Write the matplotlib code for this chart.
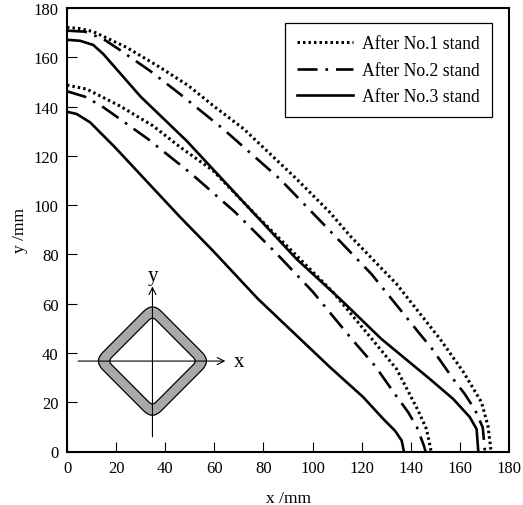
#!/usr/bin/env python3
import numpy as np
from matplotlib import pyplot as plt
from matplotlib.patches import FancyBboxPatch
from matplotlib.transforms import Affine2D

plt.rcParams['font.family'] = ['Liberation Serif', 'DejaVu Serif']

# dotted, after No.1 stand
x1a = [0, 5, 10.7, 24.3, 37.9, 49.4, 60, 72, 93.5, 107, 115.2, 134.2, 151.9, 161.4, 168.8, 171.4, 172.5, 172.6]
y1a = [172.1, 171.7, 170.4, 164, 155.9, 148.5, 140, 130.9, 110.6, 97.1, 87.6, 68, 45.7, 32.3, 20, 10.5, 1.8, 0]
x1b = [0, 8, 21.6, 35, 46, 59.5, 77.2, 93, 108.3, 124.7, 134.2, 143, 146.4, 148.1, 148.2]
y1b = [148.7, 147.1, 140.2, 132.2, 123.6, 114, 95.7, 80, 64.7, 45, 33.5, 16.6, 9.1, 1, 0]
# dash-dot, after No.2 stand
x2a = [0, 7.3, 14.8, 20.9, 33.8, 46, 63.6, 86.7, 108.3, 124, 143.7, 148.5, 157.3, 162, 166.1, 169.3, 170.2]
y2a = [170.8, 170.4, 167.4, 163.4, 154.5, 145.1, 130.9, 110.6, 88.3, 72, 47.7, 41.9, 29.4, 23.3, 17, 9.8, 0]
x2b = [0, 7.3, 14.1, 20.2, 33, 50.8, 68.4, 84.7, 100.2, 115.9, 125.4, 134.2, 138.9, 142.5, 145.4, 146]
y2b = [146.2, 144, 140.2, 135.9, 126.8, 112.6, 97.2, 81, 64.7, 45.7, 34.8, 22.4, 16, 9.9, 2.2, 0]
# solid, after No.3 stand
x3a = [0, 5.3, 10.7, 14.8, 30, 48.7, 74.5, 93.5, 111.2, 128, 147.8, 157.3, 164, 166.8, 167.5]
y3a = [167.1, 166.7, 165, 161.3, 144, 126.1, 98.4, 78.1, 61.9, 45.7, 29.4, 21.3, 14, 9.1, 0]
x3b = [0, 3.9, 9.4, 19.5, 46, 59.5, 77.8, 107, 120.6, 128.8, 133.6, 136.3, 137.2]
y3b = [137.9, 137, 133.6, 123.5, 95.2, 81.4, 61.9, 34.3, 22.1, 13.2, 8.4, 4.4, 0]

xticks = np.arange(0, 181, 20)
yticks = np.arange(0, 181, 20)
labels = ['After No.1 stand', 'After No.2 stand', 'After No.3 stand']

fig = plt.figure(figsize=(5.23, 5.06), dpi=100)
ax = fig.add_axes([67/523, 1-452.5/506, (509-67)/523, (452.5-9)/506])

dotted = (0, (0.8, 1.0))
dashdot = (0, (7.6, 3.0, 1, 3.0))
ax.plot(x1a, y1a, color='k', lw=2.2, ls=dotted, label=labels[0])
ax.plot(x1b, y1b, color='k', lw=2.2, ls=dotted)
ax.plot(x2a, y2a, color='k', lw=1.9, ls=dashdot, label=labels[1])
ax.plot(x2b, y2b, color='k', lw=1.9, ls=dashdot)
ax.plot(x3a, y3a, color='k', lw=1.9, label=labels[2])
ax.plot(x3b, y3b, color='k', lw=1.9)

# inset sketch of the section
cx, cy = 34.8, 36.7
rot = Affine2D().rotate_deg_around(cx, cy, 45) + ax.transData
outer = FancyBboxPatch((cx-16.8, cy-16.8), 33.6, 33.6, boxstyle='round,pad=0,rounding_size=5',
                       fc='#a8a8a8', ec='k', lw=0.9, transform=rot, zorder=3)
inner = FancyBboxPatch((cx-12.8, cy-12.8), 25.6, 25.6, boxstyle='round,pad=0,rounding_size=2',
                       fc='white', ec='k', lw=0.9, transform=rot, zorder=3)
ax.add_patch(outer)
ax.add_patch(inner)
ax.annotate('', xy=(34.8, 67), xytext=(34.8, 6), zorder=4,
            arrowprops=dict(arrowstyle='->,head_width=0.25,head_length=0.5', lw=0.8, color='k', shrinkA=0, shrinkB=0))
ax.annotate('', xy=(64.5, 36.7), xytext=(4.5, 36.7), zorder=4,
            arrowprops=dict(arrowstyle='->,head_width=0.25,head_length=0.5', lw=0.8, color='k', shrinkA=0, shrinkB=0))
ax.text(34.8, 67.5, 'y', fontsize=15, ha='center', va='bottom')
ax.text(68, 36.7, 'x', fontsize=15, ha='left', va='center')

ax.set_xlim(0, 180)
ax.set_ylim(0, 180)
ax.set_xticks(xticks)
ax.set_yticks(yticks)
ax.tick_params(direction='in', length=7, width=0.8, labelsize=12, pad=6)
ax.set_xlabel('x /mm', fontsize=12.5, labelpad=10)
ax.set_ylabel('y /mm', fontsize=12.5, labelpad=4)
for s in ax.spines.values():
    s.set_linewidth(1.5)

leg = ax.legend(loc='upper left', bbox_to_anchor=(218/442, (452.5-24)/443.5), fontsize=12.7,
                frameon=True, fancybox=False, framealpha=1, edgecolor='k', handlelength=3.2,
                labelspacing=0.55, borderpad=0.68, handletextpad=0.5, borderaxespad=0)
leg.get_frame().set_linewidth(0.9)

plt.savefig('out.png', dpi=100)
